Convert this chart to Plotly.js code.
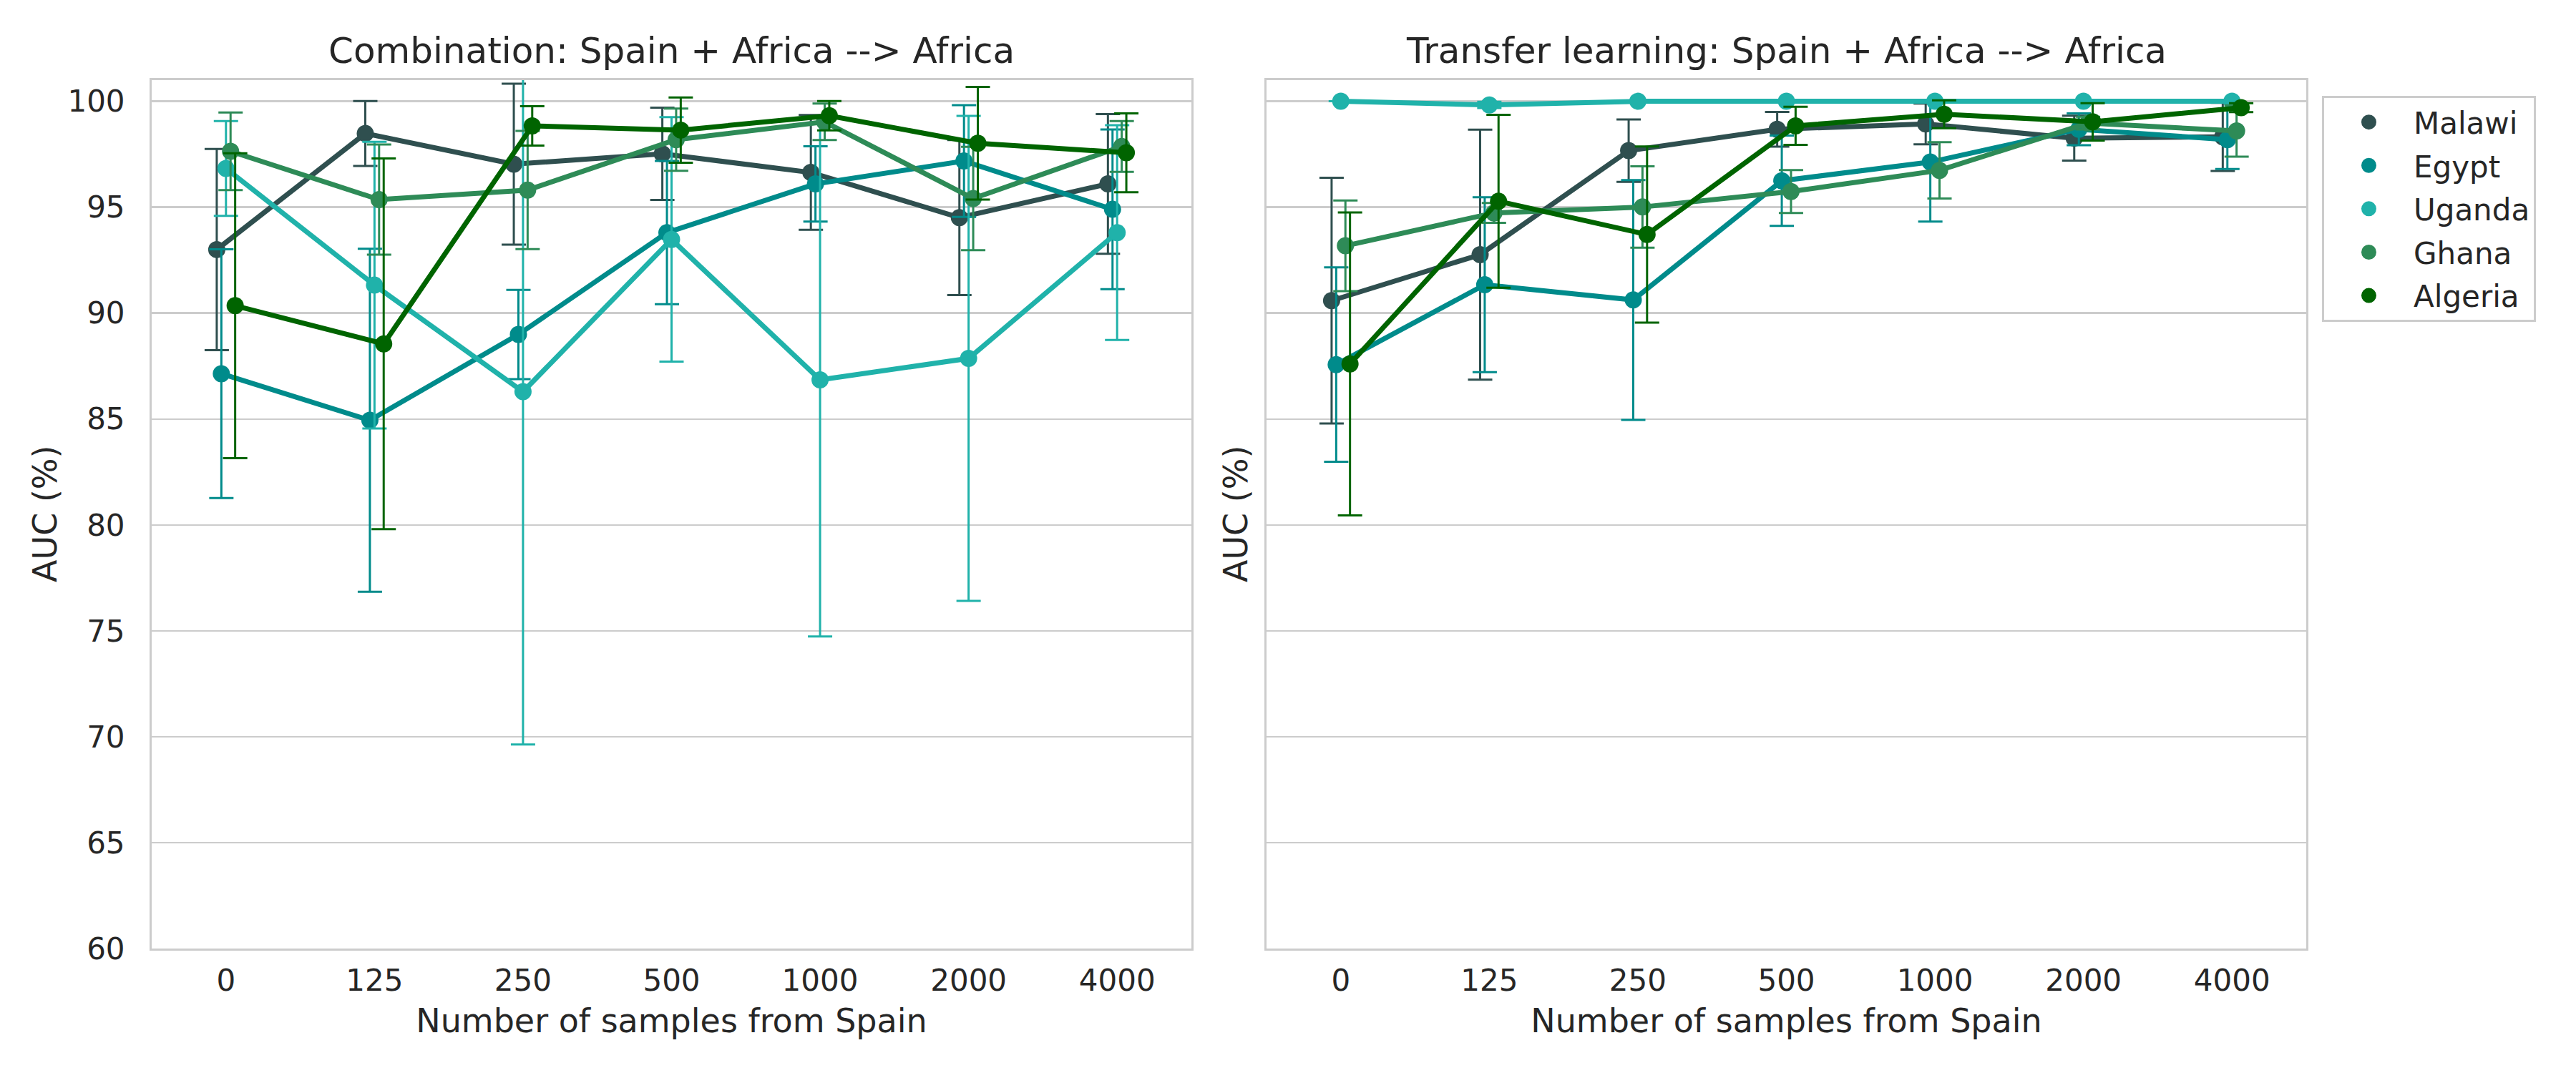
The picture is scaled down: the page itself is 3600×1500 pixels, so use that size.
<!DOCTYPE html>
<html>
<head>
<meta charset="utf-8">
<script src="https://cdn.plot.ly/plotly-3.0.1.min.js"></script>
<style>
  html, body { margin: 0; padding: 0; background: #fff; }
  #chart { width: 3600px; height: 1500px; }
</style>
</head>
<body>
<div id="chart"></div>
<script>
// categories on the x axis (number of Spanish samples)
var samples = ['0', '125', '250', '500', '1000', '2000', '4000'];
var countries = ['Malawi', 'Egypt', 'Uganda', 'Ghana', 'Algeria'];
var colors = ['#2f4f4f', '#008b8b', '#20b2aa', '#2e8b57', '#006400'];

// Combination: mean AUC (%) and standard deviation
var combMalawi = [93.0, 98.48, 97.03, 97.52, 96.64, 94.51, 96.10];
var combMalawiSd = [4.75, 1.53, 3.8, 2.18, 2.71, 3.66, 3.3];
var combEgypt = [87.14, 84.94, 88.99, 93.80, 96.10, 97.18, 94.90];
var combEgyptSd = [5.87, 8.1, 2.11, 3.38, 1.78, 2.64, 3.77];
var combUganda = [96.83, 91.32, 86.29, 93.48, 86.85, 87.86, 93.80];
var combUgandaSd = [2.24, 6.77, 16.66, 5.77, 12.12, 11.45, 5.07];
var combGhana = [97.64, 95.36, 95.81, 98.19, 99.03, 95.41, 97.87];
var combGhanaSd = [1.83, 2.6, 2.79, 1.47, 0.86, 2.44, 1.2];
var combAlgeria = [90.35, 88.55, 98.84, 98.64, 99.32, 98.02, 97.57];
var combAlgeriaSd = [7.2, 8.75, 0.93, 1.54, 0.69, 2.66, 1.86];

// Transfer learning: mean AUC (%) and standard deviation
var transMalawi = [90.59, 92.76, 97.67, 98.68, 98.93, 98.26, 98.32];
var transMalawiSd = [5.8, 5.9, 1.47, 0.82, 0.96, 1.06, 1.61];
var transEgypt = [87.57, 91.34, 90.62, 96.25, 97.13, 98.68, 98.19];
var transEgyptSd = [4.59, 4.13, 5.66, 2.13, 2.81, 0.75, 1.39];
var transUganda = [100.0, 99.83, 100.0, 100.0, 100.0, 100.0, 100.0];
var transUgandaSd = [0, 0.15, 0, 0, 0, 0, 0];
var transGhana = [93.18, 94.73, 95.01, 95.74, 96.74, 98.97, 98.60];
var transGhanaSd = [2.14, 0.47, 1.92, 1.01, 1.33, 0.3, 1.21];
var transAlgeria = [87.6, 95.28, 93.71, 98.84, 99.39, 99.03, 99.70];
var transAlgeriaSd = [7.15, 4.08, 4.16, 0.9, 0.66, 0.88, 0.21];

var combMeans = [combMalawi, combEgypt, combUganda, combGhana, combAlgeria];
var combSds = [combMalawiSd, combEgyptSd, combUgandaSd, combGhanaSd, combAlgeriaSd];
var transMeans = [transMalawi, transEgypt, transUganda, transGhana, transAlgeria];
var transSds = [transMalawiSd, transEgyptSd, transUgandaSd, transGhanaSd, transAlgeriaSd];

var dodge = 0.031;
var font = 'DejaVu Sans, Verdana, sans-serif';
var textColor = '#262626';

function makeTraces(means, sds, xaxis, yaxis) {
  var traces = [];
  means.forEach(function(vals, h) {
    var xs = samples.map(function(s, i) { return i + (h - 2) * dodge; });
    traces.push({
      x: xs,
      y: vals,
      xaxis: xaxis,
      yaxis: yaxis,
      type: 'scatter',
      mode: 'lines+markers',
      name: countries[h],
      legendgroup: countries[h],
      showlegend: false,
      line: {color: colors[h], width: 7},
      marker: {color: colors[h], size: 24},
      error_y: {type: 'data', array: sds[h], color: colors[h], thickness: 3, width: 17},
      cliponaxis: true
    });
  });
  return traces;
}

var data = makeTraces(combMeans, combSds, 'x', 'y')
  .concat(makeTraces(transMeans, transSds, 'x2', 'y2'));

// legend entries show only the dots
countries.forEach(function(c, h) {
  data.push({
    x: [null], y: [null],
    type: 'scatter', mode: 'markers',
    name: c, legendgroup: c,
    marker: {color: colors[h], size: 24, line: {color: colors[h], width: 5}}
  });
});

var yAxisBase = {
  range: [60, 101],
  tickvals: [60, 65, 70, 75, 80, 85, 90, 95, 100],
  showgrid: true,
  gridcolor: '#cccccc',
  gridwidth: 2.5,
  zeroline: false,
  showline: true,
  linecolor: '#cccccc',
  linewidth: 3,
  mirror: true,
  ticks: 'outside',
  ticklen: 26,
  tickcolor: 'rgba(0,0,0,0)',
  tickfont: {family: font, size: 42, color: textColor}
};

var xAxisBase = {
  range: [-0.5, 6.5],
  tickvals: samples.map(function(s, i) { return i; }),
  ticktext: samples,
  showgrid: false,
  zeroline: false,
  showline: true,
  linecolor: '#cccccc',
  linewidth: 3,
  mirror: true,
  ticks: 'outside',
  ticklen: 6,
  tickcolor: 'rgba(0,0,0,0)',
  tickfont: {family: font, size: 42, color: textColor},
  title: {text: 'Number of samples from Spain', font: {family: font, size: 46, color: textColor}, standoff: 17}
};

var layout = {
  width: 3600,
  height: 1500,
  margin: {l: 212, r: 377, t: 112, b: 174},
  paper_bgcolor: '#ffffff',
  plot_bgcolor: '#ffffff',
  font: {family: font, color: textColor},
  xaxis: Object.assign({}, xAxisBase, {domain: [0, 0.48256], anchor: 'y'}),
  xaxis2: Object.assign({}, xAxisBase, {domain: [0.51744, 1], anchor: 'y2'}),
  yaxis: Object.assign({}, yAxisBase, {anchor: 'x'}),
  yaxis2: Object.assign({}, yAxisBase, {anchor: 'x2', matches: 'y', showticklabels: false}),
  showlegend: true,
  legend: {
    x: 1.0073, xanchor: 'left',
    y: 0.982, yanchor: 'top',
    bgcolor: '#ffffff',
    bordercolor: '#cccccc',
    borderwidth: 3,
    itemwidth: 115,
    tracegroupgap: 3,
    font: {family: font, size: 42, color: textColor}
  },
  annotations: [
    {text: 'Combination: Spain + Africa --> Africa', xref: 'x domain', yref: 'paper', x: 0.5, y: 1,
     xanchor: 'center', yanchor: 'bottom', yshift: 10, showarrow: false,
     font: {family: font, size: 50, color: textColor}},
    {text: 'Transfer learning: Spain + Africa --> Africa', xref: 'x2 domain', yref: 'paper', x: 0.5, y: 1,
     xanchor: 'center', yanchor: 'bottom', yshift: 10, showarrow: false,
     font: {family: font, size: 50, color: textColor}},
    {text: 'AUC (%)', xref: 'x domain', yref: 'y domain', x: 0, y: 0.5, xshift: -149,
     xanchor: 'center', yanchor: 'middle', textangle: -90, showarrow: false,
     font: {family: font, size: 46, color: textColor}},
    {text: 'AUC (%)', xref: 'x2 domain', yref: 'y2 domain', x: 0, y: 0.5, xshift: -43,
     xanchor: 'center', yanchor: 'middle', textangle: -90, showarrow: false,
     font: {family: font, size: 46, color: textColor}}
  ]
};

Plotly.newPlot('chart', data, layout, {staticPlot: true});
</script>
</body>
</html>
